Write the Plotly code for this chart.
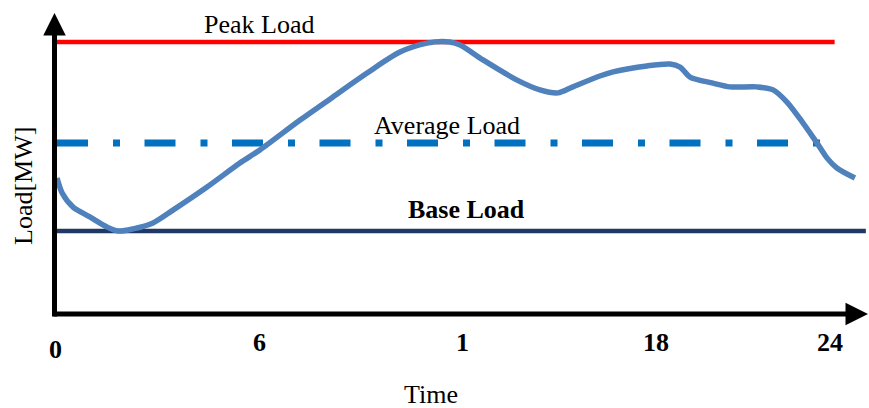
import plotly.graph_objects as go

# ---- data ----
curve_hours = [0.0, 0.16, 0.50, 1.02, 1.55, 1.89, 2.36, 2.98, 3.60, 4.66, 5.68, 6.30,
               7.55, 8.57, 9.63, 10.65, 11.49, 12.20, 12.52, 13.23, 14.29, 15.00,
               15.56, 16.02, 16.86, 17.27, 18.32, 19.04, 19.35, 19.66, 20.37, 20.90,
               21.74, 22.24, 22.67, 23.17, 23.60, 23.91, 24.22, 24.78]
curve_load = [50.0, 44.5, 39.3, 35.7, 32.0, 30.5, 31.3, 33.5, 38.2, 46.7, 55.5, 60.3,
              71.3, 79.8, 88.6, 96.3, 99.6, 100.0, 98.9, 93.4, 86.0, 82.4,
              81.3, 83.5, 87.5, 89.0, 91.2, 91.9, 90.8, 87.1, 84.9, 83.5,
              83.5, 82.4, 77.9, 70.2, 62.9, 57.4, 53.7, 50.0]

ref_names = ["Peak Load", "Average Load", "Base Load"]
ref_values = [100.0, 62.9, 30.5]
ref_start_hours = [0.0, 0.0, 0.0]
ref_end_hours = [24.15, 23.78, 25.12]

tick_hours = [0, 6, 12, 18, 24]
tick_labels = ["0", "6", "1", "18", "24"]

# ---- figure ----
W, H = 869, 408
X0_PX, PX_PER_H = 57.0, 32.2
Y0_PX, PX_PER_MW = 314.0, 2.72
x_range = [(0 - X0_PX) / PX_PER_H, (W - X0_PX) / PX_PER_H]
y_range = [(Y0_PX - H) / PX_PER_MW, Y0_PX / PX_PER_MW]

SERIF = "Times New Roman, Liberation Serif, serif"

ref_styles = [
    dict(color="#FF0000", width=4.5),
    dict(color="#0070C0", width=7, dash="31px,25px,7px,24.5px"),
    dict(color="#1F3864", width=4.5),
]

fig = go.Figure()
for name, val, xs, xe, st in zip(ref_names, ref_values, ref_start_hours, ref_end_hours, ref_styles):
    fig.add_trace(go.Scatter(x=[xs, xe], y=[val, val], mode="lines", line=st,
                             name=name, hoverinfo="skip"))

fig.add_trace(go.Scatter(x=curve_hours, y=curve_load, mode="lines",
                         line=dict(color="#4F81BD", width=5.5, shape="spline", smoothing=0.8),
                         name="Load"))

annotations = []
# axes with arrows
annotations.append(dict(xref="paper", yref="paper", x=54.5 / W, y=1 - 13 / H,
                        ax=0, ay=305, axref="pixel", ayref="pixel", text="",
                        showarrow=True, arrowhead=2, arrowwidth=5, arrowsize=0.9,
                        arrowcolor="black", standoff=0))
annotations.append(dict(xref="paper", yref="paper", x=868 / W, y=1 - 314 / H,
                        ax=-816, ay=0, axref="pixel", ayref="pixel", text="",
                        showarrow=True, arrowhead=2, arrowwidth=5, arrowsize=0.9,
                        arrowcolor="black", standoff=0))

# line labels
label_pos = [(258.5, 24, False), (447, 125, False), (466.5, 210, True)]
for name, (px, py, bold) in zip(ref_names, label_pos):
    annotations.append(dict(xref="paper", yref="paper", x=px / W, y=1 - py / H,
                            text=f"<b>{name}</b>" if bold else name, showarrow=False,
                            xanchor="center", yanchor="middle",
                            font=dict(family=SERIF, size=26, color="black")))

# tick labels
tick_shift = [-1.5, 8.8, 18.6, 19.4, 0.2]
tick_y_px = [349, 342.5, 342.5, 342.5, 342.5]
for h, lab, sh, ty in zip(tick_hours, tick_labels, tick_shift, tick_y_px):
    annotations.append(dict(xref="x", yref="paper", x=h, y=1 - ty / H, xshift=sh,
                            text=f"<b>{lab}</b>", showarrow=False,
                            xanchor="center", yanchor="middle",
                            font=dict(family=SERIF, size=26, color="black")))

# axis titles
annotations.append(dict(xref="paper", yref="paper", x=431 / W, y=1 - 394 / H,
                        text="Time", showarrow=False, xanchor="center", yanchor="middle",
                        font=dict(family=SERIF, size=26, color="black")))
annotations.append(dict(xref="paper", yref="paper", x=24 / W, y=1 - 186 / H,
                        text="Load[MW]", showarrow=False, textangle=-90,
                        xanchor="center", yanchor="middle",
                        font=dict(family=SERIF, size=26, color="black")))

fig.update_layout(
    width=W, height=H, autosize=False,
    margin=dict(l=0, r=0, t=0, b=0, pad=0),
    paper_bgcolor="white", plot_bgcolor="white",
    showlegend=False,
    xaxis=dict(range=x_range, visible=False, fixedrange=True),
    yaxis=dict(range=y_range, visible=False, fixedrange=True),
    annotations=annotations,
)

fig.write_html("out.html", config={"displayModeBar": False},
               post_script="document.body.style.margin='0';")
